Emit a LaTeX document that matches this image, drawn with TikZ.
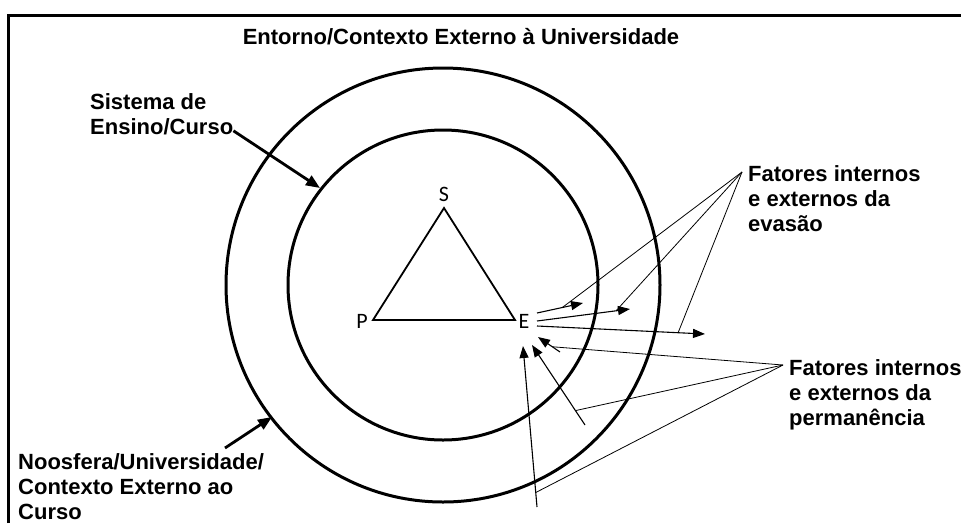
\documentclass[tikz,border=0pt]{standalone}
\usepackage{fontspec}
\setmainfont{Liberation Sans}
\newfontfamily\vertexfont{Carlito}
\usepackage{tikz}
\usetikzlibrary{arrows.meta,calc}
\definecolor{InkBlack}{RGB}{0,0,0}

\begin{document}
\begin{tikzpicture}[x=1pt, y=-1pt,
    lbl/.style={font=\bfseries\fontsize{22}{25}\selectfont, align=left, anchor=north west, inner sep=0pt, text=InkBlack},
    vtx/.style={font=\vertexfont\fontsize{22}{22}\selectfont, inner sep=0pt, text=InkBlack},
    ring/.style={line width=3pt, draw=InkBlack},
    bigarrow/.style={line width=2.8pt, -{Triangle[length=14pt,width=11pt]}},
    factor/.style={line width=1.1pt, -{Triangle[length=12pt,width=9pt]}},
    leader/.style={line width=0.8pt},
]
\useasboundingbox (0,0) rectangle (961,523);
\draw[line width=3pt] (8,523) -- (8,15) -- (961,15);

\node[lbl, anchor=center] (title) at (461,37) {Entorno/Contexto Externo à Universidade};

% circles
\coordinate (ctr) at (443,285);
\draw[ring] (ctr) circle[radius=217];
\draw[ring] (ctr) circle[radius=155];

% triangle
\coordinate (sv) at (444,208);
\coordinate (pv) at (373,320);
\coordinate (ev) at (515,320);
\draw[line width=1.8pt] (sv) -- (pv) -- (ev) -- cycle;
\node[vtx] (s) at (444,194) {S};
\node[vtx] (p) at (362,321) {P};
\node[vtx] (e) at (524,321) {E};

% labels
\node[lbl] (sist) at (90,93) {Sistema de\\Ensino/Curso};
\node[lbl] (noos) at (18,453) {Noosfera/Universidade/\\Contexto Externo ao\\Curso};
\node[lbl] (evas) at (748,165) {Fatores internos\\e externos da\\evasão};
\node[lbl] (perm) at (789,359) {Fatores internos\\e externos da\\permanência};

% thick arrows
\coordinate (sist-end) at (320,188);
\coordinate (noos-end) at (272,417);
\draw[bigarrow] (sist.south east) ++(0,-4) -- (sist-end);
\draw[bigarrow] (225,448) -- (noos-end);

% evasao arrows
\coordinate (a1s) at (537,313); \coordinate (a1t) at (583,303);
\coordinate (a2s) at (537,321); \coordinate (a2t) at (630,309);
\coordinate (a3s) at (537,326); \coordinate (a3t) at (705,334);
\draw[factor] (a1s) -- (a1t);
\draw[factor] (a2s) -- (a2t);
\draw[factor] (a3s) -- (a3t);
\coordinate (evk) at (742,172);
\draw[leader] (evk) -- ($(a1s)!0.55!(a1t)$);
\draw[leader] (evk) -- ($(a2s)!0.85!(a2t)$);
\draw[leader] (evk) -- ($(a3s)!0.84!(a3t)$);

% permanencia arrows
\coordinate (b1s) at (560,352); \coordinate (b1t) at (538,337);
\coordinate (b2s) at (585,425); \coordinate (b2t) at (532,345);
\coordinate (b3s) at (537,507); \coordinate (b3t) at (523,346);
\draw[factor] (b1s) -- (b1t);
\draw[factor] (b2s) -- (b2t);
\draw[factor] (b3s) -- (b3t);
\coordinate (pmk) at (783,365);
\draw[leader] (pmk) -- ($(b1s)!0.35!(b1t)$);
\draw[leader] (pmk) -- ($(b2s)!0.18!(b2t)$);
\draw[leader] (pmk) -- ($(b3s)!0.09!(b3t)$);
\end{tikzpicture}
\end{document}
